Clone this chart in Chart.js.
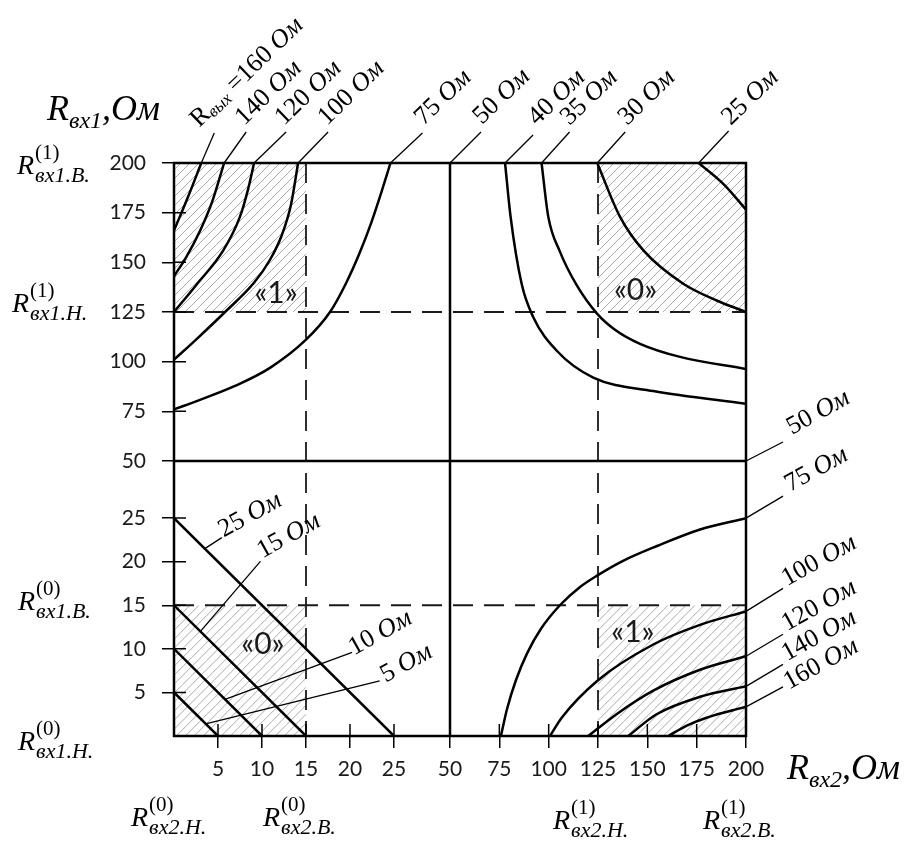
<!DOCTYPE html>
<html>
<head>
<meta charset="utf-8">
<title>Rвых</title>
<script src="https://cdn.jsdelivr.net/npm/chart.js@4.4.1/dist/chart.umd.min.js"></script>
<style>
html,body{margin:0;padding:0;background:#fff;}
canvas{display:block;}
</style>
</head>
<body>
<canvas id="chart" width="910" height="852"></canvas>
<script>
// ---------- tick values ----------
const xTickValues = [5, 10, 15, 20, 25, 50, 75, 100, 125, 150, 175, 200];
const yTickValues = [5, 10, 15, 20, 25, 50, 75, 100, 125, 150, 175, 200];

// ---------- logic level bounds (dashed lines) ----------
const levelsX = [15, 125];
const levelsY = [15, 125];
// hatched zones [from, to]
const zonesX = [[0, 15], [125, 200]];
const zonesY = [[0, 15], [125, 200]];

// ---------- R_вых curves: points [R_вх2, R_вх1] ----------
// upper-left quadrant
const tl160 = [[0,166],[1.6,183],[3.1,200]];
const tl140 = [[0,143],[1.36,152.4],[2.95,165.8],[4.32,180.3],[5.7,200]];
const tl120 = [[0,125],[2.6,139],[5.6,156],[7.5,173],[8.4,186.5],[9.1,200]];
const tl100 = [[0,101],[2.6,111.5],[5.8,125],[9.09,139.7],[10.91,151.3],[12.27,163.9],[13.3,179.1],[14.1,200]];
const tl75  = [[0,76],[2.95,80.8],[6.93,87.8],[10.91,96.9],[14.94,110.8],[17.73,125],[19.55,139.5],[21.02,153.9],[22.39,169.6],[23.64,186.3],[24.6,200]];
// 50 Ом
const v50 = [[50,0],[50,200]];
const h50 = [[0,50],[200,50]];
// upper-right quadrant
const tr40 = [[77.9,200],[80.7,173],[86.3,139.2],[92.2,122.4],[104.1,105.5],[122.6,92],[153,85.2],[200,78.8]];
const tr35 = [[96.4,200],[99.8,173],[105.7,155.4],[114.2,138.5],[124.5,124.2],[133.6,116.1],[146.3,109],[166.6,102.4],[200,96.3]];
const tr30 = [[124.6,200],[136.1,173],[148,156],[168.2,139.2],[185.1,130.8],[200,125]];
const tr25 = [[176,200],[189,189],[200,176.5]];
// lower-left quadrant
const bl25 = [[0,25],[25,0]];
const bl15 = [[0,15],[15,0]];
const bl10 = [[0,10],[10,0]];
const bl5  = [[0,5],[5,0]];
// lower-right quadrant
const br75  = [[75.8,0],[78.9,3.1],[83.4,6.4],[89.0,9.45],[96.1,12.3],[105.7,15],[115.9,17.1],[124.5,18.4],[137.7,20.1],[154.9,21.8],[176.7,23.7],[200,25]];
const br100 = [[100.7,0],[106.6,2.1],[125,6.4],[153,10.5],[176.7,12.75],[200,14.3]];
const br120 = [[120.1,0],[134.4,2.5],[153,5.2],[176.7,7.6],[200,9.15]];
const br140 = [[140.3,0],[154.7,2.5],[176.7,4.5],[200,5.7]];
const br160 = [[160.6,0],[170,1.2],[180,2.1],[200,3.35]];

const curves = [tl160, tl140, tl120, tl100, tl75, v50, h50, tr40, tr35, tr30, tr25,
                bl25, bl15, bl10, bl5, br75, br100, br120, br140, br160];

// logic state labels [text, R_вх2, R_вх1]
const stateLabels = [['«1»', 11.6, 134.5], ['«0»', 144, 136], ['«0»', 10.1, 10.5], ['«1»', 142.7, 11.9]];

// ---------- broken (piecewise linear) axis ----------
const BREAKS = {
  x: [[0, 0], [25, 220 / 572], [50, 276 / 572], [200, 1]],
  y: [[0, 0], [25, 217.5 / 572], [50, 274.5 / 572], [200, 1]]
};
const TICKS = { x: xTickValues, y: yTickValues };
class BrokenScale extends Chart.LinearScale {
  frac(v) {
    const b = BREAKS[this.axis];
    for (let i = 1; i < b.length; i++) {
      if (v <= b[i][0] || i === b.length - 1) {
        const [v0, f0] = b[i - 1], [v1, f1] = b[i];
        return f0 + (v - v0) / (v1 - v0) * (f1 - f0);
      }
    }
    return 0;
  }
  buildTicks() {
    this.start = this.min; this.end = this.max;
    return TICKS[this.axis].map(v => ({ value: v }));
  }
  getPixelForValue(v) { return this.getPixelForDecimal(this.frac(v)); }
  getValueForPixel(p) {
    const d = this.getDecimalForPixel(p), b = BREAKS[this.axis];
    for (let i = 1; i < b.length; i++) {
      if (d <= b[i][1] || i === b.length - 1) {
        const [v0, f0] = b[i - 1], [v1, f1] = b[i];
        return v0 + (d - f0) / (f1 - f0) * (v1 - v0);
      }
    }
    return 0;
  }
}
BrokenScale.id = 'broken';
BrokenScale.defaults = { ticks: { callback: v => String(v) } };
Chart.register(BrokenScale);

// ---------- text helpers ----------
const SERIF = '"Liberation Serif", "Times New Roman", serif';
const F_UP = '26px ' + SERIF, F_IT = 'italic 26px ' + SERIF, F_SUB = 'italic 17px ' + SERIF;
const om = n => [[n + ' ', F_UP], ['Ом', F_IT]];
const last = a => a[a.length - 1];
const along = (a, t) => [a[0][0] + (a[1][0] - a[0][0]) * t, a[0][1] + (a[1][1] - a[0][1]) * t];

function rich(ctx, sx, sy, ang, parts) {
  ctx.save();
  ctx.translate(sx, sy); ctx.rotate(ang);
  ctx.textAlign = 'left'; ctx.textBaseline = 'alphabetic';
  let cx = 0;
  parts.forEach(([t, f, dy]) => { ctx.font = f; ctx.fillText(t, cx, dy || 0); cx += ctx.measureText(t).width; });
  ctx.restore();
}
function special(ctx, x, yb, sup, sub) {
  ctx.save();
  ctx.textAlign = 'left'; ctx.textBaseline = 'alphabetic';
  ctx.font = 'italic 28px ' + SERIF;
  ctx.fillText('R', x, yb);
  const w = ctx.measureText('R').width + 1;
  ctx.font = '21px ' + SERIF;
  ctx.fillText(sup, x + w, yb - 15);
  ctx.font = 'italic 22px ' + SERIF;
  ctx.fillText(sub, x + w, yb + 8);
  ctx.restore();
}

const ANG_TOP = -44 * Math.PI / 180, ANG_SIDE = -29 * Math.PI / 180;
const topNotes = [
  { pt: last(tl160), lead: [13, -30], off: [-15, -5], parts: [['R', F_UP], ['вых', F_SUB, 3], [' =160 ', F_UP], ['Ом', F_IT]] },
  { pt: last(tl140), lead: [22, -31], off: [-2, -6], parts: om(140) },
  { pt: last(tl120), lead: [32, -31], off: [-2, -6], parts: om(120) },
  { pt: last(tl100), lead: [30, -31], off: [-1, -6], parts: om(100) },
  { pt: last(tl75),  lead: [32, -30], off: [1, -7], parts: om(75) },
  { pt: last(v50),   lead: [31, -31], off: [1, -7], parts: om(50) },
  { pt: tr40[0],     lead: [28, -28], off: [4, -9], parts: om(40) },
  { pt: tr35[0],     lead: [28, -31], off: [0, -6], parts: om(35) },
  { pt: tr30[0],     lead: [28, -31], off: [2, -6], parts: om(30) },
  { pt: tr25[0],     lead: [30, -32], off: [2, -5], parts: om(25) }
];
const sideNotes = [
  { pt: last(h50),   lead: [37, -19], off: [9, -7], parts: om(50) },
  { pt: last(br75),  lead: [37, -22], off: [7, -4], parts: om(75) },
  { pt: last(br100), lead: [37, -23], off: [4, -2], parts: om(100) },
  { pt: last(br120), lead: [37, -22], off: [4, -3], parts: om(120) },
  { pt: last(br140), lead: [37, -22], off: [4, -3], parts: om(140) },
  { pt: last(br160), lead: [37, -20], off: [6, 3], parts: om(160) },
  { pt: along(bl25, 0.14), lead: [17, -11], off: [2, 0], parts: om(25) },
  { pt: along(bl15, 0.2),  lead: [60, -70], off: [2, -3], parts: om(15) },
  { pt: along(bl10, 0.58), lead: [127, -47], off: [2, 3], parts: om(10) },
  { pt: along(bl5, 0.72),  lead: [174, -43], off: [6, 2], parts: om(5) }
];

const overlay = {
  id: 'overlay',
  beforeDatasetsDraw(chart) {
    const { ctx, chartArea: a, scales: { x, y } } = chart;
    ctx.save();
    // hatching
    ctx.strokeStyle = '#ababab'; ctx.lineWidth = 1;
    zonesX.forEach(zx => zonesY.forEach(zy => {
      const L = x.getPixelForValue(zx[0]), R = x.getPixelForValue(zx[1]);
      const T = y.getPixelForValue(zy[1]), B = y.getPixelForValue(zy[0]);
      ctx.save();
      ctx.beginPath(); ctx.rect(L, T, R - L, B - T); ctx.clip();
      const H = B - T;
      ctx.beginPath();
      for (let s = L - H - 20; s < R + 20; s += 9) { ctx.moveTo(s, B); ctx.lineTo(s + H, T); }
      ctx.stroke();
      ctx.restore();
    }));
    // dashed level lines
    ctx.setLineDash([20, 11]); ctx.lineWidth = 1.8; ctx.strokeStyle = '#1a1a1a';
    ctx.beginPath();
    levelsX.forEach(v => { const p = x.getPixelForValue(v); ctx.moveTo(p, a.top); ctx.lineTo(p, a.bottom); });
    levelsY.forEach(v => { const p = y.getPixelForValue(v); ctx.moveTo(a.left, p); ctx.lineTo(a.right, p); });
    ctx.stroke();
    ctx.restore();
  },
  afterDatasetsDraw(chart) {
    const { ctx, chartArea: a, scales: { x, y } } = chart;
    ctx.save();
    ctx.setLineDash([]);
    // frame
    ctx.strokeStyle = '#000'; ctx.lineWidth = 2.5;
    ctx.strokeRect(a.left, a.top, a.right - a.left, a.bottom - a.top);
    // inward tick marks
    ctx.lineWidth = 1.5;
    ctx.beginPath();
    xTickValues.forEach(v => { const p = x.getPixelForValue(v); ctx.moveTo(p, a.bottom); ctx.lineTo(p, a.bottom - 12); });
    yTickValues.forEach(v => { const p = y.getPixelForValue(v); ctx.moveTo(a.left, p); ctx.lineTo(a.left + 12, p); });
    ctx.stroke();
    // state labels
    ctx.fillStyle = '#1a1a1a'; ctx.font = '30px Lato'; ctx.textAlign = 'center'; ctx.textBaseline = 'middle';
    stateLabels.forEach(([t, vx, vy]) => ctx.fillText(t, x.getPixelForValue(vx), y.getPixelForValue(vy)));
    // leaders + rotated labels
    ctx.fillStyle = '#000'; ctx.strokeStyle = '#000'; ctx.lineWidth = 1.3;
    const notes = (list, ang) => list.forEach(n => {
      const px = x.getPixelForValue(n.pt[0]), py = y.getPixelForValue(n.pt[1]);
      const ex = px + n.lead[0], ey = py + n.lead[1];
      ctx.beginPath(); ctx.moveTo(px, py); ctx.lineTo(ex, ey); ctx.stroke();
      rich(ctx, ex + n.off[0], ey + n.off[1], ang, n.parts);
    });
    notes(topNotes, ANG_TOP);
    notes(sideNotes, ANG_SIDE);
    // axis titles
    const T36 = 'italic 36px ' + SERIF, T24 = 'italic 24px ' + SERIF;
    rich(ctx, 47, 120, 0, [['R', T36], ['вх1', T24, 8], [',', T36], ['Ом', T36]]);
    rich(ctx, 787, 779, 0, [['R', T36], ['вх2', T24, 8], [',', T36], ['Ом', T36]]);
    // level labels on the axes
    special(ctx, 17, y.getPixelForValue(200) + 11, '(1)', 'вх1.В.');
    special(ctx, 12, y.getPixelForValue(125), '(1)', 'вх1.Н.');
    special(ctx, 18, y.getPixelForValue(15) + 5, '(0)', 'вх1.В.');
    special(ctx, 18, y.getPixelForValue(0) + 14, '(0)', 'вх1.Н.');
    special(ctx, x.getPixelForValue(0) - 43, a.bottom + 90, '(0)', 'вх2.Н.');
    special(ctx, x.getPixelForValue(15) - 43, a.bottom + 90, '(0)', 'вх2.В.');
    special(ctx, x.getPixelForValue(125) - 45, a.bottom + 93, '(1)', 'вх2.Н.');
    special(ctx, x.getPixelForValue(200) - 43, a.bottom + 93, '(1)', 'вх2.В.');
    ctx.restore();
  }
};

const axisCommon = {
  type: 'broken', min: 0, max: 200,
  grid: { display: true, drawOnChartArea: false, drawTicks: true, tickLength: 12, color: '#000', lineWidth: 1.5 },
  border: { display: false },
  ticks: { autoSkip: false, maxRotation: 0, minRotation: 0, color: '#1a1a1a', font: { family: 'Lato', size: 21 } }
};

new Chart(document.getElementById('chart'), {
  type: 'scatter',
  data: {
    datasets: curves.map(c => ({
      data: c.map(([vx, vy]) => ({ x: vx, y: vy })),
      showLine: true, pointRadius: 0, borderColor: '#000', borderWidth: 2.5,
      cubicInterpolationMode: c.length > 2 ? 'monotone' : 'default',
      tension: 0, borderCapStyle: 'round', borderJoinStyle: 'round', fill: false
    }))
  },
  options: {
    responsive: false, animation: false, devicePixelRatio: 1, events: [],
    layout: { padding: { left: 0, top: 163, right: 164, bottom: 56 } },
    plugins: { legend: { display: false }, tooltip: { enabled: false } },
    scales: {
      x: Object.assign({}, axisCommon, { position: 'bottom', afterFit: s => { s.height = 60; },
            ticks: Object.assign({}, axisCommon.ticks, { padding: 9 }) }),
      y: Object.assign({}, axisCommon, { position: 'left', afterFit: s => { s.width = 174; },
            ticks: Object.assign({}, axisCommon.ticks, { padding: 16 }) })
    }
  },
  plugins: [overlay]
});
</script>
</body>
</html>
